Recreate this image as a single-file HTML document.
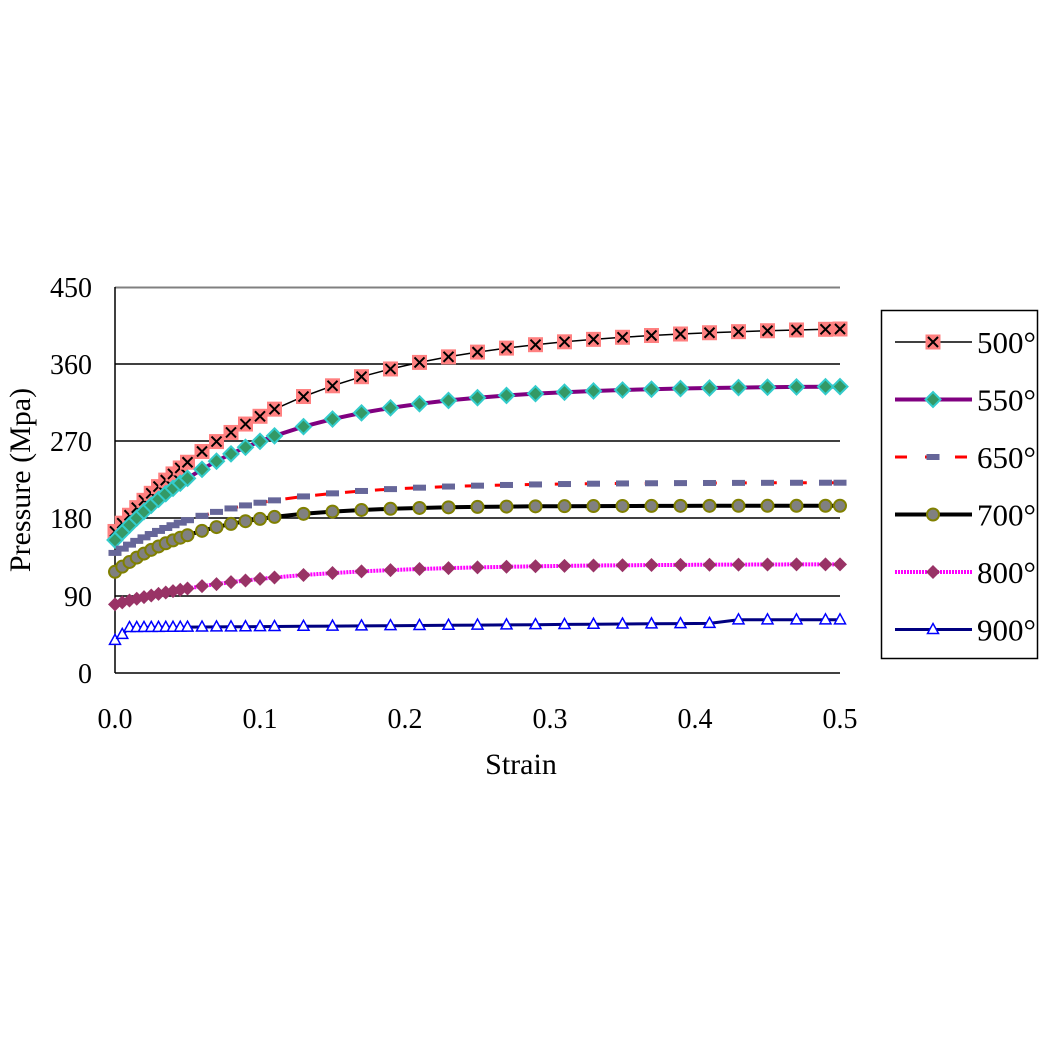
<!DOCTYPE html><html><head><style>body{margin:0;background:#fff}svg text{font-family:"Liberation Serif",serif;fill:#000}</style></head><body>
<svg id="s" width="1051" height="1051" xmlns="http://www.w3.org/2000/svg">
<rect width="1051" height="1051" fill="#fff"/>
<line x1="115" y1="287.5" x2="840" y2="287.5" stroke="#808080" stroke-width="2"/>
<g stroke="#000" stroke-width="1.5">
<line x1="115" y1="364" x2="840" y2="364"/><line x1="115" y1="441" x2="840" y2="441"/>
<line x1="115" y1="518" x2="840" y2="518"/><line x1="115" y1="596" x2="840" y2="596"/>
<line x1="115" y1="287" x2="115" y2="673"/><line x1="115" y1="673" x2="840" y2="673"/>
</g>
<g font-size="28" text-anchor="end">
<text x="92" y="297">450</text><text x="92" y="374">360</text><text x="92" y="451">270</text><text x="92" y="528">180</text><text x="92" y="606">90</text><text x="92" y="683">0</text>
</g>
<g font-size="28" text-anchor="middle">
<text x="115" y="728">0.0</text><text x="260" y="728">0.1</text><text x="405" y="728">0.2</text><text x="550" y="728">0.3</text><text x="695" y="728">0.4</text><text x="840" y="728">0.5</text>
<text x="521" y="774" font-size="30">Strain</text>
<text transform="translate(30,480) rotate(-90)" font-size="30">Pressure (Mpa)</text>
</g>
<rect x="881.5" y="310.5" width="156" height="348" fill="none" stroke="#000" stroke-width="1.5"/>
<g id="g"></g>
</svg>
<script>
var g=document.getElementById('g'),h='';
var xs=[];for(var i=0;i<=10;i++)xs.push(i*0.005);for(var v=0.06;v<0.115;v+=0.01)xs.push(v);for(var v=0.13;v<0.5;v+=0.02)xs.push(v);xs.push(0.5);
function P(x){return 115+x*1450}function Y(v){return 673-v*0.8578}
function ex(a,b,k){return function(x){return a+(b-a)*(1-Math.exp(-x/k))}}
var S=[
{f:ex(165,405,0.122),ln:'stroke="#000" stroke-width="1.5"',m:'x'},
{f:ex(155,335,0.098),ln:'stroke="#800080" stroke-width="4"',m:'d1'},
{f:ex(140,222,0.08),ln:'stroke="#f00" stroke-width="3" stroke-dasharray="12,18"',m:'dash'},
{f:ex(118,195,0.062),ln:'stroke="#000" stroke-width="4"',m:'o'},
{f:ex(80,127,0.1),ln:'stroke="#f0f" stroke-width="4" stroke-dasharray="2,1"',m:'d2'},
{f:function(x){return x<0.01?38+1400*x:(x<0.42?53+(x-0.01)*12:62)},ln:'stroke="#000080" stroke-width="3"',m:'t'}];
function mk(m,x,y){
if(m=='x')return '<rect x="'+(x-7.5)+'" y="'+(y-7.5)+'" width="15" height="15" fill="#ff8080"/><path d="M'+(x-5)+' '+(y-5)+'L'+(x+5)+' '+(y+5)+'M'+(x+5)+' '+(y-5)+'L'+(x-5)+' '+(y+5)+'" stroke="#000" stroke-width="2"/>';
if(m=='d1')return '<path d="M'+x+' '+(y-7.5)+'l7.5 7.5l-7.5 7.5l-7.5 -7.5z" fill="#339966" stroke="#33cccc" stroke-width="2"/>';
if(m=='dash')return '<rect x="'+(x-6.5)+'" y="'+(y-3)+'" width="13" height="6" fill="#666699"/>';
if(m=='o')return '<circle cx="'+x+'" cy="'+y+'" r="6" fill="#808080" stroke="#808000" stroke-width="2"/>';
if(m=='d2')return '<path d="M'+x+' '+(y-7)+'l7 7l-7 7l-7 -7z" fill="#993366"/>';
return '<path d="M'+x+' '+(y-6)+'l5.5 10h-11z" fill="#fff" stroke="#00f" stroke-width="1.5"/>';}
S.forEach(function(s,k){var d='';xs.forEach(function(x,i){d+=(i?'L':'M')+P(x).toFixed(1)+' '+Y(s.f(x)).toFixed(1)});
h+='<path d="'+d+'" fill="none" '+s.ln+'/>';});
S.forEach(function(s){xs.forEach(function(x){h+=mk(s.m,P(x),Y(s.f(x)))})});
var L=['500°','550°','650°','700°','800°','900°'];
L.forEach(function(t,i){var y=342+i*57.5;h+='<line x1="895" y1="'+y+'" x2="972" y2="'+y+'" '+S[i].ln+'/>'+mk(S[i].m,933,y)+'<text x="977" y="'+(y+11)+'" font-size="31">'+t+'</text>';});
g.innerHTML=h;
</script>
</body></html>
